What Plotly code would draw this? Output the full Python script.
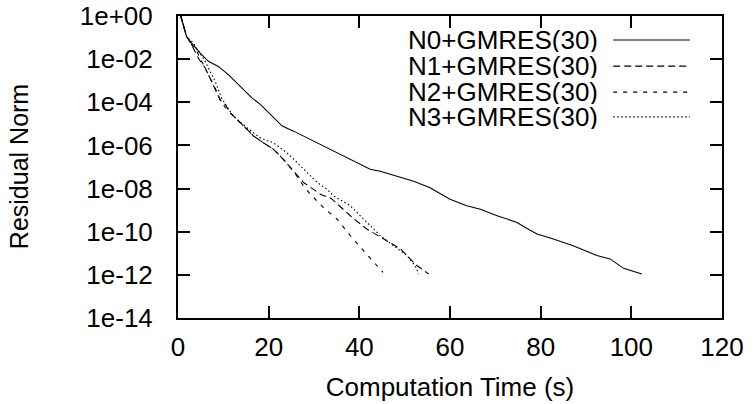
import plotly.graph_objects as go

# ---- data ----
series_names = ["N0+GMRES(30)", "N1+GMRES(30)", "N2+GMRES(30)", "N3+GMRES(30)"]

n0_time = [0.6, 1.2, 1.9, 3.0, 4.9, 6.7, 8.9, 11.1, 14.0, 16.3, 18.2, 20.4, 23.0, 25.5,
           29.9, 34.3, 38.0, 42.4, 44.6, 48.0, 52.0, 55.6, 58.0, 60.0, 63.7, 66.7, 70.4,
           74.8, 77.0, 79.2, 82.8, 87.3, 92.4, 95.3, 98.3, 102.3]
n0_res = [1.0, 0.38, 0.112, 5.5e-2, 1.9e-2, 7.9e-3, 4.6e-3, 1.9e-3, 4.6e-4, 1.6e-4, 7.8e-5,
          2.7e-5, 7.9e-6, 4.6e-6, 1.6e-6, 5.5e-7, 2.2e-7, 7.9e-8, 6.3e-8, 4.0e-8, 2.2e-8,
          1.1e-8, 5.6e-9, 3.2e-9, 1.6e-9, 1.1e-9, 5.5e-10, 2.7e-10, 1.4e-10, 7.9e-11,
          4.6e-11, 2.2e-11, 7.9e-12, 5.5e-12, 2.0e-12, 1.1e-12]

n1_time = [0.6, 1.2, 1.9, 3.0, 4.5, 6.0, 7.4, 9.3, 10.4, 11.55, 14.5, 16.7, 18.9, 21.1,
           23.3, 25.5, 27.7, 31.4, 33.8, 38.0, 41.7, 45.4, 49.1, 51.2, 52.7, 55.3]
n1_res = [1.0, 0.38, 0.112, 4.6e-2, 1.1e-2, 3.9e-3, 9.3e-4, 1.3e-4, 7.9e-5, 3.2e-5, 7.9e-6,
          2.7e-6, 1.3e-6, 6.6e-7, 2.2e-7, 6.6e-8, 1.9e-8, 5.5e-9, 3.5e-9, 5.5e-10, 1.3e-10,
          4.6e-11, 1.6e-11, 5.5e-12, 2.7e-12, 1.1e-12]

n2_time = [0.6, 1.2, 1.9, 3.0, 3.8, 5.6, 8.2, 9.6, 11.55, 14.5, 16.7, 18.9, 21.1, 23.3,
           25.5, 27.7, 29.2, 32.1, 35.1, 38.0, 40.6, 42.4, 43.9, 45.2]
n2_res = [1.0, 0.38, 0.112, 4.6e-2, 3.2e-2, 5.5e-3, 4.6e-4, 9.3e-5, 3.2e-5, 7.9e-6, 2.7e-6,
          1.3e-6, 6.6e-7, 2.2e-7, 6.3e-8, 1.3e-8, 5.5e-9, 1.3e-9, 3.8e-10, 6.6e-11, 1.6e-11,
          6.6e-12, 2.7e-12, 1.3e-12]

n3_time = [0.6, 1.2, 1.9, 3.4, 6.0, 8.2, 9.6, 11.5, 12.3, 15.2, 18.2, 21.1, 24.0, 26.3,
           28.5, 30.7, 32.9, 34.3, 38.0, 41.7, 44.6, 47.6, 50.5, 52.3, 53.1]
n3_res = [1.0, 0.38, 0.112, 5.5e-2, 7.9e-3, 9.3e-4, 1.6e-4, 3.8e-5, 2.2e-5, 6.6e-6, 2.2e-6,
          1.3e-6, 4.6e-7, 1.6e-7, 5.5e-8, 1.9e-8, 9.3e-9, 4.6e-9, 1.6e-9, 2.7e-10, 6.6e-11,
          2.2e-11, 7.9e-12, 2.7e-12, 1.1e-12]

x_ticks = [0, 20, 40, 60, 80, 100, 120]
y_ticks = [1e0, 1e-2, 1e-4, 1e-6, 1e-8, 1e-10, 1e-12, 1e-14]
y_tick_labels = ["1e+00", "1e-02", "1e-04", "1e-06", "1e-08", "1e-10", "1e-12", "1e-14"]
x_title = "Computation Time (s)"
y_title = "Residual Norm"

# ---- styling ----
FONT = "Liberation Sans, Arial, Helvetica, sans-serif"
FS = 26
dashes = ["solid", "7px,4px", "4px,6px", "1.5px,2.5px"]

fig = go.Figure()
all_series = [(n0_time, n0_res), (n1_time, n1_res), (n2_time, n2_res), (n3_time, n3_res)]
for (t, r), name, d in zip(all_series, series_names, dashes):
    fig.add_trace(go.Scatter(x=t, y=r, mode="lines", name=name,
                             line=dict(color="black", width=1.1, dash=d),
                             showlegend=False))

# gnuplot-style key: text right-aligned, sample line to the right
legend_rows = [0.9205, 0.834, 0.748, 0.666]
for name, d, yy in zip(series_names, dashes, legend_rows):
    fig.add_annotation(x=0.775, y=yy, xref="paper", yref="paper", text=name,
                       showarrow=False, xanchor="right", yanchor="middle", height=24,
                       font=dict(family=FONT, size=FS, color="black"))
    fig.add_shape(type="line", xref="paper", yref="paper", x0=0.80, x1=0.941,
                  y0=yy, y1=yy, line=dict(color="black", width=1.1, dash=d))

# y axis title placed as a rotated annotation (far left, like gnuplot)
fig.add_annotation(x=-0.292, y=0.5, xref="paper", yref="paper", text=y_title,
                   showarrow=False, textangle=-90, xanchor="center", yanchor="middle",
                   font=dict(family=FONT, size=FS - 1, color="black"))

axis_common = dict(showline=True, linecolor="black", linewidth=2, mirror="ticks",
                   ticks="inside", ticklen=12, tickwidth=1.5, tickcolor="black",
                   showgrid=False, zeroline=False, automargin=False,
                   ticklabeloverflow="allow",
                   tickfont=dict(family=FONT, size=FS, color="black"))

fig.update_xaxes(range=[0, 120], tickvals=x_ticks, ticklabelstandoff=5,
                 title=dict(text=x_title, font=dict(family=FONT, size=FS, color="black"),
                            standoff=17),
                 **axis_common)
fig.update_yaxes(type="log", range=[-14, 0], tickvals=y_ticks, ticktext=y_tick_labels,
                 ticklabelstandoff=18, **axis_common)

fig.update_layout(width=753, height=404, plot_bgcolor="white", paper_bgcolor="white",
                  margin=dict(l=178, r=31, t=16, b=86),
                  font=dict(family=FONT, size=FS, color="black"))

# remove the browser's default 8px body margin so the figure fills the window exactly
fig.write_html("out.html", config={"displayModeBar": False},
               post_script="document.body.style.margin='0';document.body.style.overflow='hidden';")
